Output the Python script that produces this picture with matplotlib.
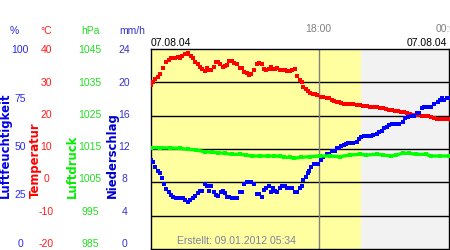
import matplotlib
matplotlib.use("Agg")
import matplotlib.pyplot as plt

# ---- data (time in hours of 07.08.04) ----
temp_t = [10.26, 10.34, 10.45, 10.57, 10.68, 10.79, 10.95, 11.06, 11.15, 11.26,
          11.37, 11.49, 11.60, 11.69, 11.80, 11.91, 11.98, 12.10, 12.21, 12.30,
          12.41, 12.52, 12.61, 12.72, 12.83, 12.92, 13.03, 13.14, 13.24, 13.35,
          13.44, 13.55, 13.66, 13.76, 13.87, 13.98, 14.09, 14.20, 14.35, 14.45,
          14.56, 14.67, 14.78, 14.87, 14.98, 15.14, 15.24, 15.36, 15.46, 15.57,
          15.68, 15.77, 15.88, 15.98, 16.08, 16.19, 16.31, 16.42, 16.54, 16.65,
          16.77, 16.89, 17.00, 17.11, 17.20, 17.28, 17.39, 17.49, 17.60, 17.71,
          17.82, 17.92, 18.08, 18.20, 18.36, 18.48, 18.59, 18.71, 18.82, 18.92,
          19.03, 19.14, 19.28, 19.43, 19.58, 19.74, 19.89, 20.04, 20.20, 20.35,
          20.50, 20.68, 20.82, 20.95, 21.09, 21.23, 21.37, 21.51, 21.65, 21.78,
          21.92, 22.06, 22.20, 22.34, 22.48, 22.62, 22.75, 22.89, 23.03, 23.17,
          23.31, 23.45, 23.58, 23.72, 23.86, 23.98]
temp_v = [29.2, 30.0, 30.9, 31.7, 32.4, 34.4, 36.2, 36.7, 37.4, 37.4,
          37.4, 37.6, 37.4, 37.9, 38.5, 38.4, 38.8, 37.9, 37.2, 36.2,
          35.4, 34.6, 33.9, 33.4, 34.2, 33.7, 33.7, 34.7, 36.0, 36.0,
          35.4, 34.6, 35.0, 35.2, 36.4, 36.4, 35.7, 35.4, 34.2, 34.2,
          33.0, 32.7, 32.2, 32.5, 33.6, 35.5, 35.7, 35.4, 34.0, 33.8,
          34.0, 34.5, 34.0, 34.0, 34.2, 33.7, 33.7, 33.7, 33.4, 33.4,
          33.7, 34.0, 31.8, 30.7, 30.0, 28.5, 28.0, 27.4, 26.9, 26.4,
          26.4, 26.2, 25.7, 25.5, 25.2, 25.2, 24.8, 24.5, 24.2, 24.0,
          23.7, 23.4, 23.4, 23.4, 23.4, 23.2, 23.2, 23.0, 22.9, 22.6,
          22.6, 22.5, 22.4, 22.2, 22.0, 21.7, 21.6, 21.5, 21.3, 21.2,
          21.0, 20.8, 20.5, 20.3, 20.2, 20.2, 20.0, 20.0, 19.8, 19.6,
          19.4, 19.1, 19.0, 19.0, 19.0, 19.0]

hum_t = [10.26, 10.34, 10.45, 10.57, 10.68, 10.77, 10.85, 10.95, 11.06, 11.15,
         11.26, 11.41, 11.52, 11.63, 11.74, 11.83, 11.95, 12.06, 12.18, 12.29,
         12.41, 12.52, 12.61, 12.72, 12.83, 12.94, 13.03, 13.14, 13.24, 13.35,
         13.46, 13.55, 13.66, 13.76, 13.87, 13.98, 14.09, 14.20, 14.35, 14.45,
         14.56, 14.67, 14.78, 14.87, 14.98, 15.14, 15.24, 15.36, 15.46, 15.57,
         15.68, 15.77, 15.88, 15.98, 16.08, 16.19, 16.31, 16.42, 16.54, 16.65,
         16.77, 16.89, 17.00, 17.11, 17.20, 17.28, 17.39, 17.49, 17.55, 17.64,
         17.76, 17.86, 17.97, 18.08, 18.20, 18.36, 18.48, 18.60, 18.72, 18.82,
         18.92, 19.03, 19.14, 19.25, 19.34, 19.43, 19.58, 19.74, 19.83, 19.94,
         20.09, 20.25, 20.40, 20.51, 20.66, 20.78, 20.89, 21.01, 21.12, 21.24,
         21.39, 21.55, 21.70, 21.86, 21.98, 22.09, 22.25, 22.40, 22.51, 22.63,
         22.74, 22.86, 23.02, 23.17, 23.32, 23.48, 23.58, 23.68, 23.78, 23.89,
         23.98]
hum_v = [44.5, 43.3, 41.2, 39.2, 38.2, 35.3, 32.3, 30.0, 28.7, 27.0,
         26.2, 25.3, 25.3, 25.3, 25.3, 24.5, 23.7, 24.5, 25.7, 26.7,
         27.8, 29.2, 29.2, 32.3, 31.7, 29.2, 31.7, 28.7, 27.0, 26.7,
         28.7, 29.2, 28.2, 26.2, 26.2, 25.3, 25.3, 25.3, 28.3, 28.3,
         32.3, 33.3, 33.7, 33.3, 32.3, 27.5, 27.5, 26.2, 29.5, 30.3,
         31.3, 28.3, 30.3, 29.2, 28.3, 30.3, 31.3, 31.3, 30.3, 30.3,
         30.3, 28.3, 28.3, 30.3, 31.3, 34.5, 35.8, 37.8, 39.0, 40.8,
         42.3, 42.3, 42.3, 44.5, 46.2, 47.3, 47.3, 49.2, 49.2, 50.3,
         50.3, 51.3, 52.0, 52.5, 53.2, 53.2, 53.2, 53.7, 54.8, 55.8,
         56.5, 56.5, 56.5, 57.0, 57.5, 58.3, 59.2, 60.3, 61.2, 62.0,
         62.3, 62.3, 62.3, 63.7, 65.3, 66.2, 66.5, 66.5, 68.2, 68.2,
         70.3, 71.2, 71.2, 71.2, 72.3, 73.3, 74.5, 75.7, 74.5, 75.3,
         75.3]

pres_t = [10.26, 10.66, 11.12, 11.58, 11.95, 12.32, 12.72, 13.06, 13.34, 13.65,
          13.98, 14.35, 14.63, 14.92, 15.28, 15.65, 15.92, 16.20, 16.38, 16.66,
          16.85, 17.16, 17.58, 18.05, 18.51, 18.97, 19.43, 19.89, 20.17, 20.66,
          20.95, 21.32, 21.55, 21.86, 22.17, 22.48, 22.94, 23.17, 23.58, 23.98]
pres_v = [1015.4, 1015.4, 1015.3, 1015.2, 1014.9, 1014.7, 1014.2, 1014.0, 1013.9, 1013.7,
          1013.4, 1013.4, 1013.2, 1012.9, 1012.9, 1012.9, 1012.9, 1012.8, 1012.5, 1012.5,
          1012.2, 1012.5, 1012.7, 1012.9, 1012.9, 1012.7, 1013.2, 1013.4, 1013.2, 1013.4,
          1013.2, 1012.9, 1013.2, 1013.7, 1013.7, 1013.4, 1013.4, 1012.9, 1012.9, 1012.9]

hum_ticks = [100, 75, 50, 25, 0]
temp_ticks = [40, 30, 20, 10, 0, -10, -20]
pres_ticks = [1045, 1035, 1025, 1015, 1005, 995, 985]
rain_ticks = [24, 20, 16, 12, 8, 4, 0]

T_START, T_END = 10.25, 24.0
SUNSET = 19.95

W, H = 450, 250
fig = plt.figure(figsize=(W / 100, H / 100), dpi=100)
fig.patch.set_facecolor("white")

ax = fig.add_axes([151 / W, 1 / H, 298 / W, 200 / H])
ax.set_xlim(T_START, T_END)
ax.set_ylim(-20, 40)
ax.axvspan(T_START, SUNSET, color="#ffffa0", lw=0, zorder=0)
ax.axvspan(SUNSET, T_END, color="#f2f2f2", lw=0, zorder=0)
for g in [-10, 0, 10, 20, 30]:
    ax.axhline(g, color="black", lw=1, zorder=1)
ax.axvline(18.0, color="#808080", lw=1, zorder=1)
ax.set_xticks([])
ax.set_yticks([])
for s in ax.spines.values():
    s.set_color("black")
    s.set_linewidth(1)

ax_h = ax.twinx()
ax_h.set_ylim(0, 100)
ax_p = ax.twinx()
ax_p.set_ylim(985, 1045)
for a in (ax_h, ax_p):
    a.set_yticks([])
    a.set_xlim(T_START, T_END)
    for s in a.spines.values():
        s.set_visible(False)

ax_p.plot(pres_t, pres_v, color="#00ff00", lw=2.4, marker="s", ms=2.2, mew=0,
          zorder=3)
ax_h.plot(hum_t, hum_v, color="#0000ff", ls="none", marker="s", ms=2.4, mew=0,
          zorder=4)
ax.plot(temp_t, temp_v, color="#ff0000", ls="none", marker="s", ms=2.4, mew=0,
        zorder=4)

# ---- text around the plot ----
lab = dict(family="Liberation Sans", fontsize=7.5)


def fy(ypx):
    return 1 - ypx / H


def col(ticks, xc, color):
    lo, hi = min(ticks), max(ticks)
    for v in ticks:
        ypx = 50.3 + (hi - v) / (hi - lo) * 193.5
        fig.text(xc / W, fy(ypx), str(v), ha="center", va="center",
                 color=color, **lab)


col(hum_ticks, 20, "#2a2aee")
col(temp_ticks, 46.5, "#ff1a1a")
col(pres_ticks, 90, "#22dd22")
col(rain_ticks, 124.5, "#3333cc")

fig.text(14 / W, fy(30.5), "%", ha="center", va="center", color="#2a2aee", **lab)
fig.text(46.5 / W, fy(30.5), "°C", ha="center", va="center", color="#ff1a1a", **lab)
fig.text(90 / W, fy(30.5), "hPa", ha="center", va="center", color="#22dd22", **lab)
fig.text(132.5 / W, fy(30.5), "mm/h", ha="center", va="center", color="#3333cc", **lab)

rot = dict(family="DejaVu Sans", fontweight="bold", fontsize=8.4, rotation=90,
           ha="center", va="bottom")
fig.text(5.8 / W, fy(198), "Luftfeuchtigkeit", color="#0000ee", **rot)
fig.text(35.5 / W, fy(198), "Temperatur", color="#ff0000", **rot)
fig.text(72 / W, fy(198), "Luftdruck", color="#00ee00", **rot)
fig.text(112.5 / W, fy(198), "Niederschlag", color="#0000cc", **rot)

fig.text(151 / W, fy(43), "07.08.04", ha="left", va="center", color="black", **lab)
fig.text(447 / W, fy(43), "07.08.04", ha="right", va="center", color="black", **lab)
fig.text(318.5 / W, fy(29), "18:00", ha="center", va="center", color="#808080", **lab)
fig.text(449 / W, fy(29), "00:00", ha="center", va="center", color="#808080", **lab)
fig.text(236 / W, fy(240.5), "Erstellt: 09.01.2012 05:34", ha="center", va="center",
         color="#8080a0", **lab)

fig.savefig("out.png", dpi=100)
